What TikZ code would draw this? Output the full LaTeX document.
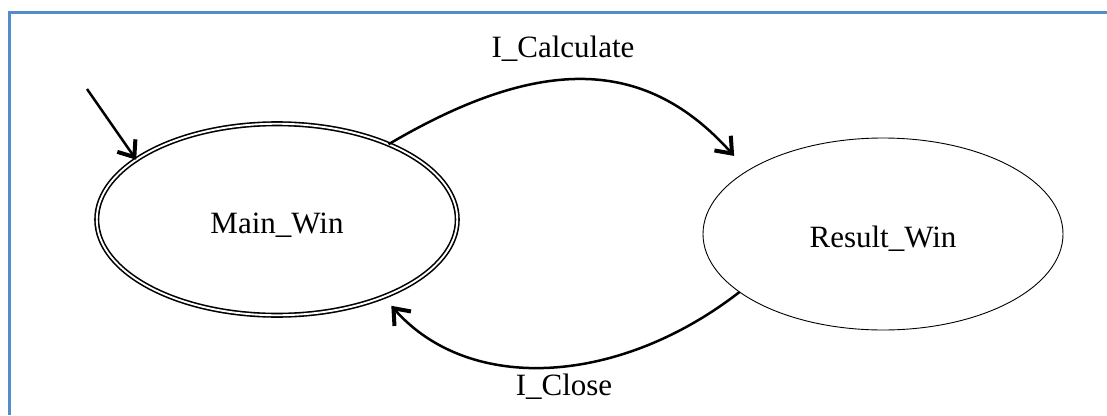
\documentclass[tikz,border=0pt]{standalone}
\usepackage{fontspec}
\setmainfont{Liberation Serif}
\usetikzlibrary{arrows.meta,shapes.geometric}
\definecolor{framecol}{RGB}{84,141,204}
\tikzset{
  state/.style={ellipse, draw=black, inner sep=0pt, outer sep=0pt,
    font=\fontsize{31}{36}\selectfont, text height=27pt, text depth=0pt},
  acceptstate/.style={state, line width=1.6pt, double=white, double distance=1.9pt,
    minimum width=360.5pt, minimum height=191.5pt},
  plainstate/.style={state, line width=0.9pt, minimum width=360pt, minimum height=192pt},
  trans/.style={line width=2.5pt, -{Straight Barb[length=14pt,width=22pt,line width=4pt]}},
  lbl/.style={font=\fontsize{31}{36}\selectfont, anchor=base, inner sep=0pt}
}
\begin{document}
\begin{tikzpicture}[x=1pt,y=-1pt]
\useasboundingbox (0,0) rectangle (1107,415);
\draw[framecol, line width=2.4pt] (9.5,415) -- (9.5,12.5) -- (1107,12.5);

\node[acceptstate] (main) at (277,219.5) {Main\_Win};
\node[plainstate] (result) at (883,234) {Result\_Win};

\coordinate (init) at (87,89);
\draw[trans] (init) -- (main.157);

\draw[trans, shorten >=20pt] (main.34) .. controls (545,52) and (648,60) .. (result.155);
\draw[trans, shorten >=12pt] (result.202) .. controls (620,385) and (470,395) .. (main.-36);

\node[lbl] (lcalc) at (563,57) {I\_Calculate};
\node[lbl] (lclose) at (564,395) {I\_Close};
\end{tikzpicture}
\end{document}
